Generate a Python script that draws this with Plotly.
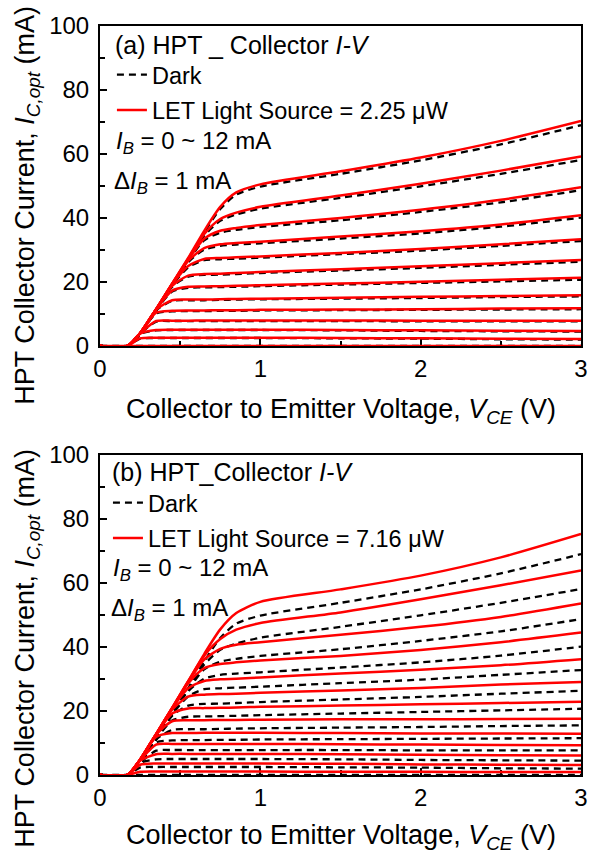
import plotly.graph_objects as go

# ---------------- data ----------------
VCE = [0, 0.17, 0.25, 0.35, 0.45, 0.55, 0.65, 0.75, 0.85, 1.0, 1.5, 2.0, 2.5, 3.0]
IB_MA = [12, 11, 10, 9, 8, 7, 6, 5, 4, 3, 2, 1, 0]

# Dark collector current (mA) for IB = 12 ... 0 mA (same dark set in both panels)
dark_ic = [
    [0, 0, 3.9, 11.3, 19.2, 27.1, 35.5, 42.8, 47.3, 49.8, 53.8, 58.0, 63.0, 69.0],
    [0, 0, 3.9, 11.3, 19.2, 26.9, 34.5, 39.1, 41.1, 42.9, 46.3, 49.9, 53.8, 58.1],
    [0, 0, 3.9, 11.3, 19.1, 26.6, 33.0, 35.4, 36.3, 37.2, 39.3, 41.9, 44.9, 48.7],
    [0, 0, 3.9, 11.3, 19.0, 26.2, 30.1, 31.3, 31.7, 32.1, 33.6, 35.2, 37.3, 40.1],
    [0, 0, 3.9, 11.2, 18.9, 24.6, 26.8, 27.1, 27.3, 27.6, 28.7, 29.8, 31.3, 32.8],
    [0, 0, 3.9, 11.2, 18.5, 21.7, 22.2, 22.3, 22.5, 22.8, 23.6, 24.4, 25.4, 26.3],
    [0, 0, 3.9, 11.2, 17.0, 18.2, 18.3, 18.4, 18.5, 18.7, 19.2, 19.7, 20.2, 20.7],
    [0, 0, 3.9, 11.1, 14.1, 14.3, 14.3, 14.4, 14.5, 14.6, 14.8, 15.0, 15.3, 15.5],
    [0, 0, 3.9, 10.2, 10.8, 10.9, 10.9, 11.0, 11.0, 11.1, 11.2, 11.3, 11.4, 11.5],
    [0, 0, 3.8, 7.6, 7.8, 7.8, 7.8, 7.8, 7.8, 7.8, 7.8, 7.7, 7.7, 7.7],
    [0, 0, 3.8, 4.9, 5.0, 5.0, 5.0, 5.0, 5.0, 5.0, 4.9, 4.7, 4.6, 4.5],
    [0, 0, 2.3, 2.5, 2.5, 2.5, 2.5, 2.5, 2.5, 2.5, 2.4, 2.3, 2.1, 2.0],
    [0, 0, 0, 0, 0, 0, 0, 0, 0, 0, 0, 0, 0, 0],
]

# (a) LET light source = 2.25 uW
red_a_ic = [
    [0, 0, 4.0, 11.5, 19.5, 27.5, 36.0, 43.5, 48.0, 50.5, 54.6, 58.9, 64.1, 70.3],
    [0, 0, 4.0, 11.5, 19.5, 27.3, 35.0, 39.7, 41.7, 43.5, 47.0, 50.7, 54.8, 59.2],
    [0, 0, 4.0, 11.5, 19.4, 27.0, 33.5, 36.0, 36.9, 37.8, 40.0, 42.6, 45.7, 49.6],
    [0, 0, 4.0, 11.5, 19.3, 26.6, 30.6, 31.8, 32.2, 32.6, 34.2, 35.9, 38.0, 40.9],
    [0, 0, 4.0, 11.4, 19.2, 25.0, 27.2, 27.5, 27.7, 28.0, 29.1, 30.3, 31.8, 33.4],
    [0, 0, 4.0, 11.4, 18.8, 22.0, 22.5, 22.6, 22.8, 23.1, 24.0, 24.9, 25.9, 26.9],
    [0, 0, 4.0, 11.4, 17.3, 18.5, 18.6, 18.7, 18.8, 19.0, 19.5, 20.1, 20.7, 21.3],
    [0, 0, 4.0, 11.3, 14.3, 14.5, 14.5, 14.6, 14.7, 14.8, 15.1, 15.4, 15.6, 15.9],
    [0, 0, 4.0, 10.4, 11.0, 11.1, 11.1, 11.2, 11.2, 11.3, 11.4, 11.5, 11.7, 11.8],
    [0, 0, 3.9, 7.8, 7.9, 7.9, 8.0, 8.0, 8.0, 8.0, 8.0, 7.9, 7.9, 7.9],
    [0, 0, 3.9, 5.0, 5.1, 5.1, 5.1, 5.1, 5.1, 5.1, 5.0, 4.9, 4.8, 4.7],
    [0, 0, 2.4, 2.6, 2.6, 2.6, 2.6, 2.6, 2.6, 2.6, 2.5, 2.4, 2.3, 2.2],
    [0, 0, 0, 0, 0, 0, 0, 0, 0, 0, 0, 0, 0, 0],
]

# (b) LET light source = 7.16 uW
red_b_ic = [
    [0, 0, 4.8, 12.8, 21.0, 29.3, 37.8, 45.5, 50.6, 54.1, 58.0, 62.3, 68.0, 75.3],
    [0, 0, 4.8, 12.8, 21.0, 29.3, 37.3, 42.5, 45.4, 47.5, 50.8, 54.9, 59.3, 63.9],
    [0, 0, 4.8, 12.8, 20.9, 29.1, 36.1, 39.4, 40.7, 41.5, 43.8, 46.3, 49.4, 53.6],
    [0, 0, 4.8, 12.8, 20.8, 28.6, 33.4, 34.7, 35.2, 35.8, 37.2, 39.1, 41.5, 44.5],
    [0, 0, 4.8, 12.7, 20.8, 27.1, 29.4, 29.9, 30.1, 30.5, 31.7, 32.9, 34.3, 36.2],
    [0, 0, 4.8, 12.7, 20.4, 24.5, 25.1, 25.3, 25.4, 25.7, 26.4, 27.2, 28.3, 29.1],
    [0, 0, 4.8, 12.6, 19.2, 20.8, 20.9, 21.0, 21.1, 21.3, 21.7, 22.1, 22.5, 22.9],
    [0, 0, 4.8, 12.6, 16.8, 17.1, 17.1, 17.2, 17.2, 17.3, 17.4, 17.4, 17.5, 17.6],
    [0, 0, 4.7, 11.9, 13.1, 13.1, 13.2, 13.2, 13.2, 13.2, 13.1, 13.0, 13.0, 12.9],
    [0, 0, 4.6, 9.5, 9.7, 9.7, 9.7, 9.7, 9.7, 9.7, 9.6, 9.5, 9.4, 9.3],
    [0, 0, 4.5, 6.5, 6.6, 6.6, 6.6, 6.6, 6.6, 6.6, 6.5, 6.3, 6.2, 6.1],
    [0, 0, 3.2, 3.6, 3.6, 3.6, 3.6, 3.6, 3.6, 3.6, 3.5, 3.3, 3.2, 3.1],
    [0, 0, 1.0, 1.1, 1.1, 1.1, 1.1, 1.1, 1.1, 1.1, 1.0, 1.0, 0.9, 0.9],
]

X_TICKS = [0, 1, 2, 3]
Y_TICKS = [0, 20, 40, 60, 80, 100]
POWER_A = "2.25"
POWER_B = "7.16"

# ---------------- figure ----------------
FONT = "Liberation Sans, Arial, sans-serif"
RED = "#ff0000"
W, H = 600, 857
ML, MR, MT, MB = 100, 16, 19, 82
PW = W - ML - MR
PH = H - MT - MB


def px_x(x):
    return (x - ML) / PW


def px_y(y):
    return (H - MB - y) / PH


fig = go.Figure()

panels = [
    ("x", "y", "legend", red_a_ic, POWER_A),
    ("x2", "y2", "legend2", red_b_ic, POWER_B),
]
for xa, ya, lg, red_set, pw in panels:
    for i, ib in enumerate(IB_MA):
        fig.add_trace(go.Scatter(
            x=VCE, y=dark_ic[i], mode="lines", xaxis=xa, yaxis=ya,
            line=dict(color="black", width=2.3, dash="7px,5px", shape="spline", smoothing=0.7),
            name="Dark", legend=lg, legendgroup=lg + "d", showlegend=(i == 0),
            hoverinfo="skip"))
    for i, ib in enumerate(IB_MA):
        fig.add_trace(go.Scatter(
            x=VCE, y=red_set[i], mode="lines", xaxis=xa, yaxis=ya,
            line=dict(color=RED, width=2.5, shape="spline", smoothing=0.7),
            name=f"LET Light Source = {pw} \u03bcW", legend=lg, legendgroup=lg + "r",
            showlegend=(i == 0), hoverinfo="skip"))

axis_common = dict(
    showline=True, linecolor="black", linewidth=2, mirror=True,
    ticks="inside", ticklen=7, tickwidth=2, tickcolor="black",
    showgrid=False, zeroline=False, layer="below traces",
    tickfont=dict(family=FONT, size=24, color="black"),
)
xax = dict(axis_common, range=[0, 3], tickvals=X_TICKS,
           minor=dict(dtick=0.5, tick0=0, ticks="inside", ticklen=5, tickwidth=2, tickcolor="black"))
yax = dict(axis_common, range=[0, 100], tickvals=Y_TICKS, ticklabelstandoff=4,
           minor=dict(dtick=10, tick0=0, ticks="inside", ticklen=5, tickwidth=2, tickcolor="black"))

top_a, bot_a = 19, 342
top_b, bot_b = 452, 775

LEGF = dict(family=FONT, size=23.5, color="black")
fig.update_layout(
    width=W, height=H,
    margin=dict(l=ML, r=MR, t=MT, b=MB),
    paper_bgcolor="white", plot_bgcolor="white",
    font=dict(family=FONT, color="black"),
    xaxis=dict(xax, domain=[0, 1], anchor="y"),
    yaxis=dict(yax, domain=[px_y(bot_a), px_y(top_a)], anchor="x"),
    xaxis2=dict(xax, domain=[0, 1], anchor="y2"),
    yaxis2=dict(yax, domain=[px_y(bot_b), px_y(top_b)], anchor="x2"),
    legend=dict(x=px_x(112), y=px_y(46), xanchor="left", yanchor="top",
                bgcolor="rgba(0,0,0,0)", font=LEGF, tracegroupgap=2, itemwidth=30),
    legend2=dict(x=px_x(108), y=px_y(478), xanchor="left", yanchor="top",
                 bgcolor="rgba(0,0,0,0)", font=LEGF, tracegroupgap=2, itemwidth=30),
)

ann = []
TF = dict(family=FONT, size=25, color="black")
IF = dict(family=FONT, size=24, color="black")
for top, label, offs, xo in [
    (top_a, "(a) HPT _ Collector <i>I-V</i>", (19, 118, 158), 0),
    (top_b, "(b) HPT_Collector <i>I-V</i>", (17, 116, 156), -3),
]:
    ann.append(dict(x=px_x(113 + xo), y=px_y(top + offs[0]), xref="paper", yref="paper",
                    text=label, showarrow=False, xanchor="left", yanchor="middle", font=TF))
    ann.append(dict(x=px_x(114 + xo), y=px_y(top + offs[1]), xref="paper", yref="paper",
                    text="<i>I</i><sub><i>B</i></sub> = 0 ~ 12 mA", showarrow=False,
                    xanchor="left", yanchor="middle", font=IF))
    ann.append(dict(x=px_x(112 + xo), y=px_y(top + offs[2]), xref="paper", yref="paper",
                    text="\u0394<i>I</i><sub><i>B</i></sub> = 1 mA", showarrow=False,
                    xanchor="left", yanchor="middle", font=IF))

AF = dict(family=FONT, size=27, color="black")
xtitle = "Collector to Emitter Voltage, <i>V</i><sub><i>CE</i></sub> (V)"
ytitle = "HPT Collector Current, <i>I</i><sub><i>C,opt</i></sub> (mA)"
for yc in [408, 838]:
    ann.append(dict(x=0.5, y=px_y(yc), xref="paper", yref="paper", text=xtitle,
                    showarrow=False, xanchor="center", yanchor="middle", font=AF))
for yc in [200, 647]:
    ann.append(dict(x=px_x(27), y=px_y(yc), xref="paper", yref="paper", text=ytitle,
                    showarrow=False, xanchor="center", yanchor="middle", textangle=-90, font=AF))

fig.update_layout(annotations=ann)
fig.write_html("out.html")
